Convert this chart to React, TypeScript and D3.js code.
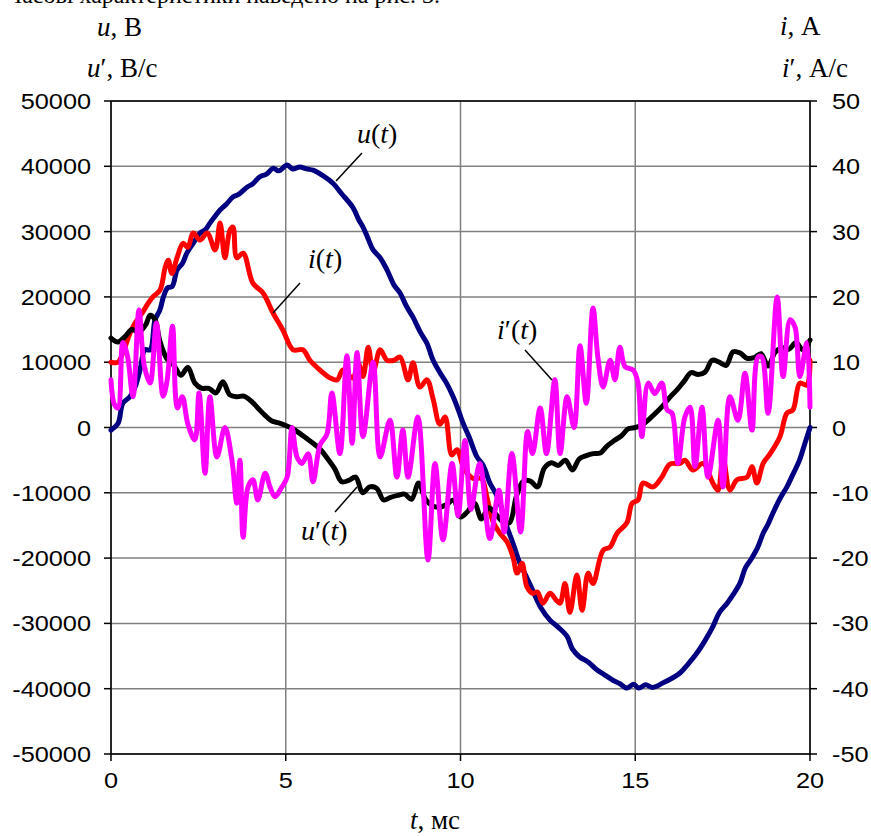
import React from 'react';
import * as d3 from 'd3';

// u(t), V  — [t ms, value]
const uData: [number, number][] = [
  [0, -400], [0.2, 600], [0.34, 3700], [0.54, 4700], [0.69, 6200], [0.83, 8800], [0.97, 11900],
  [1.12, 11900], [1.26, 16500], [1.4, 18000], [1.5, 20000], [1.62, 21400], [1.75, 21600],
  [1.89, 24100], [2.05, 25200], [2.17, 26700], [2.35, 28200], [2.55, 29800], [2.7, 30300],
  [2.83, 31300], [3.0, 32500], [3.12, 33300], [3.3, 34200], [3.49, 35300], [3.65, 35700],
  [3.89, 36800], [4.05, 37300], [4.26, 38400], [4.45, 38800], [4.64, 39700], [4.8, 39300],
  [5.04, 40200], [5.2, 39600], [5.4, 39900], [5.6, 39600], [5.78, 39400], [6.05, 38600],
  [6.35, 37400], [6.6, 35800], [6.92, 33700], [7.1, 31700], [7.21, 30700], [7.35, 29000],
  [7.5, 27200], [7.7, 26000], [7.9, 24100], [8.1, 21800], [8.27, 20600], [8.45, 18600],
  [8.64, 16900], [8.85, 14600], [9.04, 12900], [9.2, 10500], [9.4, 8500], [9.6, 6800],
  [9.79, 4700], [9.95, 2500], [10.07, 700], [10.25, -1500], [10.47, -4500], [10.65, -5800],
  [10.84, -8500], [11.0, -10000], [11.13, -11600], [11.3, -14800], [11.5, -17700], [11.7, -20800],
  [11.9, -23000], [12.07, -25000], [12.3, -27600], [12.56, -29500], [12.8, -30600], [13.05, -32000],
  [13.2, -33900], [13.4, -35100], [13.65, -35900], [13.9, -37100], [14.1, -37800], [14.36, -38700],
  [14.55, -39200], [14.76, -39900], [14.95, -39300], [15.1, -39900], [15.3, -39400], [15.5, -39800],
  [15.8, -39100], [16.05, -38400], [16.28, -37600], [16.5, -36300], [16.77, -34500], [17.0, -32600],
  [17.22, -30500], [17.4, -28400], [17.63, -26900], [17.8, -25600], [18.0, -23800], [18.15, -21500],
  [18.3, -20300], [18.5, -18400], [18.66, -16200], [18.8, -14800], [18.94, -13100], [19.15, -10800],
  [19.34, -9100], [19.5, -7300], [19.7, -5000], [19.85, -2500], [20, 0],
];

// u'(t), V/s
const duData: [number, number][] = [
  [0, 13700], [0.2, 13100], [0.4, 13900], [0.6, 15000], [0.8, 14600], [1.0, 15800], [1.12, 17200],
  [1.26, 16500], [1.4, 13200], [1.6, 10500], [1.8, 9500], [2.0, 8000], [2.2, 9200], [2.4, 6800],
  [2.6, 6000], [2.8, 6000], [3.0, 5300], [3.2, 7000], [3.4, 5000], [3.6, 4700], [3.8, 4800],
  [4.0, 4100], [4.2, 3000], [4.4, 1900], [4.6, 1000], [4.8, 700], [5.0, 300], [5.2, -200],
  [5.4, -900], [5.6, -1700], [5.8, -2500], [6.0, -3400], [6.2, -4800], [6.4, -6300], [6.6, -8300],
  [6.8, -8100], [7.0, -7600], [7.2, -10000], [7.4, -9100], [7.6, -9300], [7.8, -11100], [8.0, -10700],
  [8.2, -10400], [8.4, -10200], [8.6, -11000], [8.8, -8500], [9.0, -11000], [9.2, -12000],
  [9.4, -12200], [9.6, -11800], [9.8, -11100], [10.0, -13700], [10.2, -12900], [10.4, -11600],
  [10.6, -14000], [10.8, -12300], [11.0, -13200], [11.2, -14400], [11.4, -14600], [11.6, -10500],
  [11.8, -8200], [12.0, -8200], [12.2, -9100], [12.4, -6200], [12.6, -5400], [12.8, -5800],
  [13.0, -5000], [13.2, -6500], [13.4, -4800], [13.6, -4300], [13.8, -4000], [14.0, -3900],
  [14.2, -2800], [14.4, -2000], [14.6, -1300], [14.8, -200], [15.0, 0], [15.2, 400], [15.4, 1300],
  [15.6, 2300], [15.8, 3400], [16.0, 4700], [16.2, 5800], [16.4, 7100], [16.6, 8400], [16.8, 8100],
  [17.0, 8500], [17.2, 10300], [17.4, 10000], [17.6, 9500], [17.8, 11600], [18.0, 11400],
  [18.2, 10600], [18.4, 10700], [18.6, 11300], [18.8, 9400], [19.0, 11500], [19.2, 12200],
  [19.4, 12000], [19.6, 13000], [19.8, 11900], [20, 13400],
];

// i(t), A
const iData: [number, number][] = [
  [0, 10], [0.2, 10], [0.35, 11.6], [0.54, 14.4], [0.69, 16], [0.89, 17.5], [1.06, 19], [1.2, 20],
  [1.4, 21], [1.55, 24.5], [1.64, 25.6], [1.74, 23.6], [1.89, 26], [2.06, 28.2], [2.2, 27.6],
  [2.35, 29.8], [2.55, 28.7], [2.75, 29.8], [2.98, 27.2], [3.12, 31.3], [3.26, 26], [3.4, 30.2],
  [3.49, 30.7], [3.6, 26], [3.78, 26.7], [4.06, 22.1], [4.35, 20.6], [4.64, 17.5], [4.92, 14.9],
  [5.21, 11.9], [5.49, 11.9], [5.69, 10.3], [5.98, 8.8], [6.27, 7.6], [6.47, 7.3], [6.64, 8.8],
  [6.92, 7.6], [7.07, 9.9], [7.21, 7.8], [7.36, 12.3], [7.5, 8.4], [7.7, 11.9], [7.9, 10.3],
  [8.1, 10.3], [8.27, 10.8], [8.5, 7.3], [8.64, 9.9], [8.84, 6.2], [9.04, 7.3], [9.21, 4.5],
  [9.41, 0.5], [9.56, 1.6], [9.75, -4.2], [9.9, -3.4], [10.1, -6.3], [10.36, -7.8], [10.6, -7.8],
  [10.76, -10.8], [10.93, -14.4], [11.13, -16.2], [11.33, -17.5], [11.5, -19.8], [11.62, -22.3],
  [11.76, -20.8], [11.9, -24.4], [12.07, -25.4], [12.2, -25.2], [12.36, -26.9], [12.56, -25.4],
  [12.75, -26.5], [12.85, -26.9], [12.99, -23.9], [13.13, -28.3], [13.33, -22.6], [13.48, -28],
  [13.65, -22.3], [13.79, -23.9], [14.08, -18.8], [14.28, -18.3], [14.48, -16.2], [14.76, -14.6],
  [14.91, -11.6], [15.08, -11.1], [15.22, -8.5], [15.51, -9.1], [15.76, -7.6], [15.99, -5.6],
  [16.28, -5.5], [16.42, -5], [16.65, -6.5], [16.94, -5.5], [17.22, -8.5], [17.37, -9.6],
  [17.51, -4.5], [17.71, -9.6], [17.91, -8], [18.2, -7.6], [18.34, -6], [18.48, -8.5], [18.66, -5.5],
  [18.86, -4], [19.14, -1.4], [19.34, 2.2], [19.51, 2.7], [19.71, 6.8], [19.91, 6.5], [20, 10.3],
];

// i'(t), A/s
const diData: [number, number][] = [
  [0, 7.3], [0.1, 3.5], [0.2, 3], [0.34, 13], [0.47, 11], [0.63, 4.7], [0.8, 18], [0.95, 9.5],
  [1.12, 6.8], [1.3, 16], [1.49, 4.8], [1.6, 7], [1.76, 15.5], [1.9, 3], [2.04, 4.7], [2.2, 0.5],
  [2.4, -1.9], [2.52, 5.3], [2.69, -7], [2.83, 4.7], [3.03, -4.5], [3.26, 0], [3.46, -5],
  [3.6, -11.6], [3.69, -5], [3.78, -16.8], [3.92, -9.1], [4.06, -8], [4.2, -11.1], [4.41, -7],
  [4.55, -9.1], [4.69, -10.6], [4.89, -9.1], [5.04, -7.6], [5.18, 0], [5.32, -4.5], [5.46, -5.5],
  [5.64, -4], [5.78, -8.3], [5.98, -2.7], [6.18, -1], [6.32, 5.3], [6.55, -4], [6.75, 11],
  [6.9, -2.4], [7.04, 11.5], [7.21, -1.4], [7.5, 10], [7.7, -4.5], [7.98, 1.1], [8.18, -7.6],
  [8.35, -0.4], [8.5, -7.6], [8.78, 1.6], [9.07, -20.3], [9.27, -5.5], [9.5, -17.2], [9.76, -5.5],
  [9.93, -13.5], [10.13, -2], [10.3, -12.5], [10.55, -5.5], [10.84, -17], [11.1, -9.6], [11.25, -16],
  [11.47, -4], [11.72, -16], [11.92, -0.6], [12.06, -4], [12.28, 3], [12.46, -4], [12.7, 7.3],
  [12.85, -4], [13.05, 4.7], [13.25, 0], [13.42, 12.5], [13.6, 3.7], [13.79, 18.3], [13.93, 10.8],
  [14.08, 6.2], [14.28, 10.3], [14.42, 7.3], [14.56, 12.3], [14.71, 9.3], [14.94, 8.8], [15.08, 6.8],
  [15.19, -1.4], [15.37, 6.8], [15.56, 5.2], [15.76, 6.8], [15.91, 2.7], [16.05, 2.2], [16.22, -5.5],
  [16.42, 1.6], [16.57, 3.1], [16.71, -6], [16.91, 3.1], [17.08, -7.6], [17.37, 1.1], [17.51, -9.1],
  [17.71, 4.7], [17.94, 1.1], [18.14, 8.3], [18.34, -0.4], [18.51, 10.8], [18.62, 10.8], [18.8, 2.2],
  [19.06, 20], [19.23, 7.8], [19.43, 16.5], [19.57, 15.4], [19.71, 7.8], [19.91, 13], [20, 3.1],
];

const xTickValues = [0, 5, 10, 15, 20];
const leftTickValues = [-50000, -40000, -30000, -20000, -10000, 0, 10000, 20000, 30000, 40000, 50000];
const rightTickValues = [-50, -40, -30, -20, -10, 0, 10, 20, 30, 40, 50];

const W = 871;
const H = 836;
const serif = '"Liberation Serif", "Times New Roman", serif';
const sans = '"Liberation Sans", Arial, sans-serif';

export default function App() {
  const x = d3.scaleLinear().domain([0, 20]).range([111, 810]);
  const yL = d3.scaleLinear().domain([-50000, 50000]).range([754, 101]);
  const yR = d3.scaleLinear().domain([-50, 50]).range([754, 101]);

  const lineL = d3
    .line<[number, number]>()
    .x((d) => x(d[0]))
    .y((d) => yL(d[1]))
    .curve(d3.curveCatmullRom.alpha(0.5));
  const lineR = d3
    .line<[number, number]>()
    .x((d) => x(d[0]))
    .y((d) => yR(d[1]))
    .curve(d3.curveCatmullRom.alpha(0.5));

  const [x0, x1] = x.range();
  const [yb, yt] = yL.range();

  return (
    <svg
      width={W}
      height={H}
      style={{ position: 'absolute', left: 0, top: 0, background: '#fff' }}
    >
      <rect width={W} height={H} fill="#fff" />
      {/* cut-off line of text above the figure */}
      <text x={440} y={3} textAnchor="end" fontFamily={serif} fontSize={24}>
        Часові характеристики наведено на рис. 3.
      </text>

      {/* grid */}
      {leftTickValues.map((v) => (
        <line key={'h' + v} x1={x0} x2={x1} y1={yL(v)} y2={yL(v)} stroke="#808080" strokeWidth={1.5} />
      ))}
      {xTickValues.map((v) => (
        <line key={'v' + v} x1={x(v)} x2={x(v)} y1={yt} y2={yb} stroke="#808080" strokeWidth={1.5} />
      ))}
      {/* frame */}
      <line x1={x0} x2={x1} y1={yt} y2={yt} stroke="#000" strokeWidth={1.5} />
      <line x1={x0} x2={x1} y1={yb} y2={yb} stroke="#000" strokeWidth={1.5} />
      <line x1={x0} x2={x0} y1={yt} y2={yb} stroke="#000" strokeWidth={1.5} />
      <line x1={x1} x2={x1} y1={yt} y2={yb} stroke="#000" strokeWidth={1.5} />

      {/* ticks & labels */}
      {leftTickValues.map((v) => (
        <g key={'lt' + v}>
          <line x1={x0 - 7} x2={x0} y1={yL(v)} y2={yL(v)} stroke="#000" strokeWidth={1.5} />
          <text
            transform={`translate(${x0 - 20},${yL(v) + 8}) scale(1.15,1)`}
            textAnchor="end"
            fontFamily={sans}
            fontSize={22}
          >
            {String(v)}
          </text>
        </g>
      ))}
      {rightTickValues.map((v) => (
        <g key={'rt' + v}>
          <line x1={x1} x2={x1 + 7} y1={yR(v)} y2={yR(v)} stroke="#000" strokeWidth={1.5} />
          <text
            transform={`translate(${x1 + 22},${yR(v) + 8}) scale(1.15,1)`}
            textAnchor="start"
            fontFamily={sans}
            fontSize={22}
          >
            {String(v)}
          </text>
        </g>
      ))}
      {xTickValues.map((v) => (
        <g key={'xt' + v}>
          <line x1={x(v)} x2={x(v)} y1={yb} y2={yb + 7} stroke="#000" strokeWidth={1.5} />
          <text
            transform={`translate(${x(v)},${yb + 34}) scale(1.15,1)`}
            textAnchor="middle"
            fontFamily={sans}
            fontSize={22}
          >
            {String(v)}
          </text>
        </g>
      ))}

      {/* axis titles */}
      <g fontFamily={serif} fontSize={27}>
        <text x={97} y={36}>
          <tspan fontStyle="italic">u</tspan>, В
        </text>
        <text x={87} y={77}>
          <tspan fontStyle="italic">u</tspan>′, В/с
        </text>
        <text x={780} y={35}>
          <tspan fontStyle="italic">i</tspan>, А
        </text>
        <text x={782} y={77}>
          <tspan fontStyle="italic">i</tspan>′, А/с
        </text>
        <text x={410} y={829}>
          <tspan fontStyle="italic">t</tspan>, мс
        </text>
      </g>

      {/* series */}
      <g fill="none" strokeWidth={5} strokeLinejoin="round" strokeLinecap="round">
        <path d={lineL(uData) || ''} stroke="#000080" />
        <path d={lineR(iData) || ''} stroke="#ff0000" />
        <path d={lineL(duData) || ''} stroke="#000000" />
        <path d={lineR(diData) || ''} stroke="#ff00ff" />
      </g>

      {/* curve labels */}
      <g stroke="#000" strokeWidth={1.5}>
        <line x1={362} y1={153} x2={336} y2={181} />
        <line x1={300} y1={283} x2={273} y2={313} />
        <line x1={525} y1={350} x2={552} y2={380} />
        <line x1={335} y1={512} x2={357} y2={487} />
      </g>
      <g fontFamily={serif} fontSize={28}>
        <text x={357} y={143}>
          <tspan fontStyle="italic">u</tspan>(<tspan fontStyle="italic">t</tspan>)
        </text>
        <text x={308} y={268}>
          <tspan fontStyle="italic">i</tspan>(<tspan fontStyle="italic">t</tspan>)
        </text>
        <text x={497} y={339}>
          <tspan fontStyle="italic">i</tspan>′(<tspan fontStyle="italic">t</tspan>)
        </text>
        <text x={301} y={540}>
          <tspan fontStyle="italic">u</tspan>′(<tspan fontStyle="italic">t</tspan>)
        </text>
      </g>
    </svg>
  );
}
